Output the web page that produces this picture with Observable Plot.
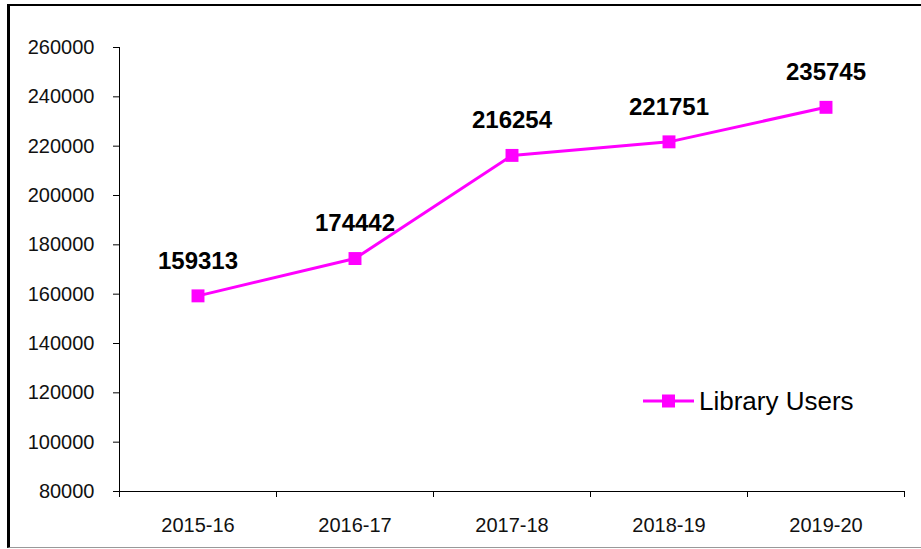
<!DOCTYPE html>
<html>
<head>
<meta charset="utf-8">
<script src="https://cdn.jsdelivr.net/npm/d3@7"></script>
<script src="https://cdn.jsdelivr.net/npm/@observablehq/plot@0.6"></script>
<style>
  html, body { margin: 0; padding: 0; background: #fff; }
  #wrap { position: relative; width: 921px; height: 549px; overflow: hidden; font-family: "Liberation Sans", Arial, sans-serif; }
  #frame { position: absolute; left: 7px; top: 4px; width: 920px; height: 541px;
           border-top: 2px solid #000; border-left: 3px solid #000; border-bottom: 1px solid #999; }
  #chart { position: absolute; left: 0; top: 0; }
  #legend { position: absolute; left: 640px; top: 385px; height: 32px; display: flex; align-items: center; }
  #legend span { font-size: 26px; color: #000; margin-left: 3px; line-height: 32px; }
</style>
</head>
<body>
<div id="wrap">
  <div id="frame"></div>
  <div id="chart"></div>
  <div id="legend">
    <svg width="56" height="32"><line x1="3" x2="54" y1="16" y2="16" stroke="#ff00ff" stroke-width="3"/><rect x="22" y="9.5" width="13" height="13" fill="#ff00ff"/></svg>
    <span>Library Users</span>
  </div>
</div>
<script>
const categories = ["2015-16", "2016-17", "2017-18", "2018-19", "2019-20"];
const users = [159313, 174442, 216254, 221751, 235745];
const yTicks = [80000, 100000, 120000, 140000, 160000, 180000, 200000, 220000, 240000, 260000];
const seriesName = "Library Users";

const data = categories.map((c, i) => ({ i, cat: c, value: users[i] }));
const boundaries = d3.range(-0.5, categories.length, 1);
const yMin = yTicks[0], yMax = yTicks[yTicks.length - 1];

const chart = Plot.plot({
  width: 921,
  height: 549,
  marginLeft: 119,
  marginRight: 17,
  marginTop: 47,
  marginBottom: 58,
  style: { fontFamily: "'Liberation Sans', Arial, sans-serif", background: "transparent", overflow: "visible" },
  x: { type: "linear", domain: [-0.5, categories.length - 0.5], axis: null },
  y: { type: "linear", domain: [yMin, yMax], axis: null },
  marks: [
    Plot.axisY({ ticks: yTicks, tickSize: 6, tickPadding: 19, tickFormat: d => String(d), fontSize: 20, stroke: "#000", fill: "#111", label: null }),
    Plot.ruleX([-0.5], { y1: yMin, y2: yMax, stroke: "#000", strokeWidth: 1 }),
    Plot.ruleY([yMin], { x1: -0.5, x2: categories.length - 0.5, stroke: "#000", strokeWidth: 1 }),
    Plot.ruleX(boundaries, { x: d => d, y1: yMin, y2: yMin, insetBottom: -6, stroke: "#000" }),
    Plot.text(data, { x: "i", y: () => yMin, text: "cat", dy: 34, fontSize: 20, fill: "#111" }),
    Plot.line(data, { x: "i", y: "value", stroke: "#ff00ff", strokeWidth: 3 }),
    Plot.dot(data, { x: "i", y: "value", symbol: "square", r: 7.3, fill: "#ff00ff", stroke: "none" }),
    Plot.text(data, { x: "i", y: "value", text: d => String(d.value), dy: -35, fontSize: 24, fontWeight: "bold", fill: "#000" })
  ]
});
document.getElementById("chart").appendChild(chart);
</script>
</body>
</html>
